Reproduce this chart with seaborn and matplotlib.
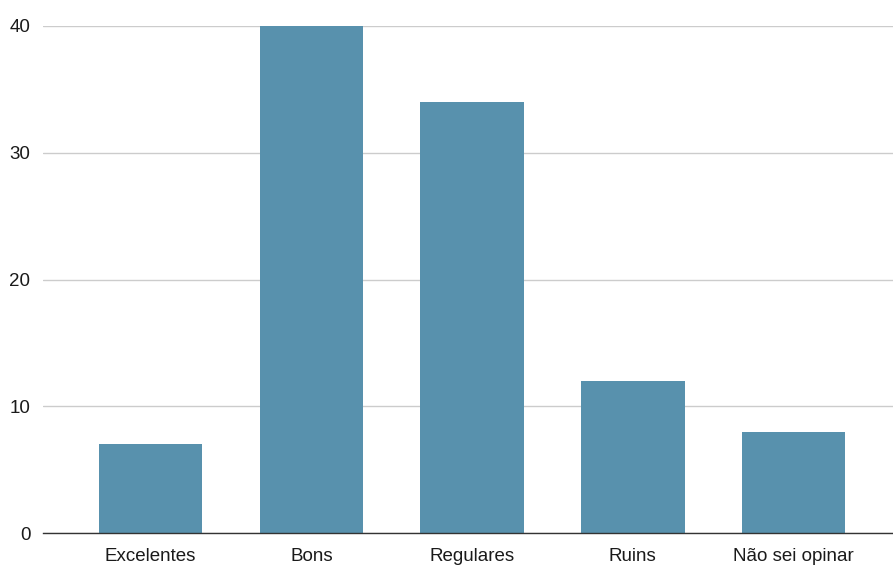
import matplotlib
matplotlib.use("Agg")
import matplotlib.pyplot as plt
import seaborn as sns
import pandas as pd

categories = ["Excelentes", "Bons", "Regulares", "Ruins", "Não sei opinar"]
counts = [7, 40, 34, 12, 8]
y_ticks = [0, 10, 20, 30, 40]

df = pd.DataFrame({"categoria": categories, "total": counts})

sns.set_theme(style="white")
plt.rcParams["font.family"] = ["Liberation Sans", "DejaVu Sans"]

fig = plt.figure(figsize=(8.93, 5.65), dpi=100)
ax = fig.add_axes([43 / 893, 32 / 565, 1 - 43 / 893, (533 - 26) / 565])

sns.barplot(data=df, x="categoria", y="total", color="#5891ad",
            saturation=1, width=0.645, linewidth=0, ax=ax, zorder=3)

ax.set_ylim(0, 40)
ax.set_xlim(-0.67, 4.62)
ax.set_yticks(y_ticks)
ax.grid(axis="y", color="#cccccc", linewidth=1, zorder=0)
ax.set_xlabel("")
ax.set_ylabel("")
ax.tick_params(axis="both", labelsize=13.5, colors="#1a1a1a", length=0)
ax.tick_params(axis="y", pad=9)
ax.tick_params(axis="x", pad=11)

for side in ["top", "right", "left"]:
    ax.spines[side].set_visible(False)
ax.spines["bottom"].set_color("#333333")
ax.spines["bottom"].set_linewidth(1)
ax.spines["bottom"].set_zorder(4)

fig.savefig("out.png", dpi=100)
